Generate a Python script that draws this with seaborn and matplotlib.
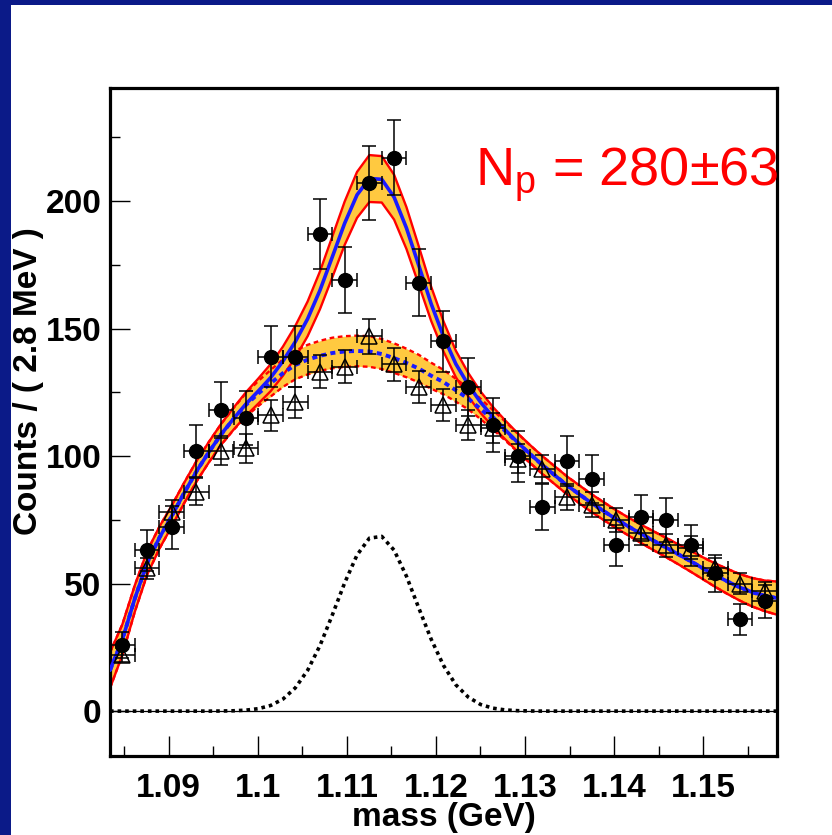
import numpy as np
import matplotlib
matplotlib.use("Agg")
import matplotlib.pyplot as plt
import seaborn as sns
from matplotlib.patches import Rectangle
from matplotlib.ticker import MultipleLocator, FuncFormatter

# binned data (27 bins of ~2.8 MeV)
mass = [1.08479, 1.08756, 1.09034, 1.09311, 1.09588, 1.09866, 1.10143, 1.10420,
        1.10698, 1.10975, 1.11253, 1.11530, 1.11807, 1.12085, 1.12362, 1.12640,
        1.12917, 1.13194, 1.13472, 1.13749, 1.14027, 1.14304, 1.14581, 1.14859,
        1.15136, 1.15414, 1.15691]
half_bin = 0.001387
counts = [26, 63, 72, 102, 118, 115, 139, 139, 187, 169, 207, 217, 168, 145,
          127, 112, 100, 80, 98, 91, 65, 76, 75, 65, 54, 36, 43]
counts_err = [5.1, 7.9, 8.5, 10.1, 10.9, 10.7, 11.8, 11.8, 13.7, 13.0, 14.4,
              14.7, 13.0, 12.0, 11.3, 10.6, 10.0, 8.9, 9.9, 9.5, 8.1, 8.7, 8.7,
              8.1, 7.3, 6.0, 6.6]
bkg_counts = [22, 56, 78, 86, 102, 103, 116, 121, 133, 135, 147, 136, 127, 120,
              112, 111, 99, 95, 84, 81, 75, 70, 65, 64, 56, 50, 47]
bkg_err = [2.6, 4.2, 4.9, 5.2, 5.7, 5.7, 6.0, 6.2, 6.5, 6.5, 6.8, 6.5, 6.3, 6.1,
           5.9, 5.9, 5.6, 5.5, 5.1, 5.0, 4.8, 4.7, 4.5, 4.5, 4.2, 4.0, 3.8]

# fit curves, read every half bin across the axis range
curve_mass = np.linspace(1.0834, 1.1583, 55)
bkg_fit = [16, 28, 44, 58, 68, 76.5, 85.5, 94, 101.5, 108.5, 114.5, 120, 124.5,
           128.5, 132.5, 135.7, 137.8, 139.3, 140.4, 141, 141.2, 141, 140, 138.4,
           136.5, 134.3, 131.5, 129, 125.8, 122.5, 118.5, 114.2, 109.8, 105.2,
           100.8, 96.5, 92.5, 88.5, 85, 81.5, 78.3, 75.2, 72.3, 69.5, 66.8, 64.2,
           61.5, 58.8, 56, 53.3, 50.8, 48.5, 46.6, 45.2, 44.3]
bkg_band = [7, 6, 5.2, 4.6, 4.3, 4.1, 4.0, 4.0, 4.0, 4.1, 4.3, 4.6, 4.9, 5.2,
            5.4, 5.6, 5.8, 5.9, 6.0, 6.0, 6.0, 6.0, 5.9, 5.8, 5.6, 5.4, 5.1,
            4.8, 4.5, 4.2, 4.0, 3.8, 3.7, 3.6, 3.5, 3.5, 3.5, 3.5, 3.5, 3.5,
            3.5, 3.5, 3.5, 3.6, 3.7, 3.8, 3.9, 4.1, 4.3, 4.6, 4.9, 5.2, 5.6,
            6.0, 6.5]
signal_fit = [0, 0, 0, 0, 0, 0, 0, 0, 0, 0.04, 0.13, 0.37, 0.95, 2.2, 4.7, 9.1,
              16.0, 25.7, 37.7, 50.3, 61.2, 67.8, 68.5, 63.1, 52.9, 40.4, 28.2,
              17.9, 10.3, 5.5, 2.6, 1.15, 0.45, 0.17, 0.05, 0, 0, 0, 0, 0, 0, 0,
              0, 0, 0, 0, 0, 0, 0, 0, 0, 0, 0, 0, 0]
total_band = [7, 6, 5.2, 4.6, 4.3, 4.1, 4.0, 4.0, 4.0, 4.1, 4.3, 4.6, 4.9, 5.3,
              5.7, 6.2, 6.8, 7.4, 8.0, 8.5, 9.0, 9.2, 9.1, 8.8, 8.2, 7.5, 6.7,
              5.9, 5.2, 4.6, 4.2, 3.9, 3.7, 3.6, 3.5, 3.5, 3.5, 3.5, 3.5, 3.5,
              3.5, 3.5, 3.5, 3.6, 3.7, 3.8, 3.9, 4.1, 4.3, 4.6, 4.9, 5.2, 5.6,
              6.0, 6.5]

bkg_fit = np.array(bkg_fit)
total_fit = bkg_fit + np.array(signal_fit)
bkg_band = np.array(bkg_band)
total_band = np.array(total_band)

sns.set_theme(style="ticks")
plt.rcParams["font.family"] = ["Liberation Sans", "DejaVu Sans"]
plt.rcParams["mathtext.default"] = "regular"
plt.rcParams["text.color"] = "black"
plt.rcParams["xtick.color"] = "black"
plt.rcParams["ytick.color"] = "black"

navy = "#0b1a88"
yellow = "#ffc940"
red = "#ff0000"
blue = "#1a1aff"

fig = plt.figure(figsize=(8.32, 8.35), dpi=100, facecolor=navy)
fig.patches.append(Rectangle((11 / 832, 0), 1, 1 - 5 / 835, transform=fig.transFigure,
                             facecolor="white", edgecolor="none", zorder=-5))
ax = fig.add_axes([110 / 832, 1 - 756 / 835, 667 / 832, 668 / 835])
ax.set_zorder(2)
ax.set_facecolor("white")

# error bands
ax.fill_between(curve_mass, bkg_fit - bkg_band, bkg_fit + bkg_band,
                color=yellow, lw=0, zorder=1)
ax.fill_between(curve_mass, total_fit - total_band, total_fit + total_band,
                color=yellow, lw=0, zorder=1)
for sign in (-1, 1):
    sns.lineplot(x=curve_mass, y=bkg_fit + sign * bkg_band, ax=ax, color=red,
                 lw=1.7, linestyle=(0, (2.0, 1.5)), estimator=None, sort=False,
                 zorder=2)
    sns.lineplot(x=curve_mass, y=total_fit + sign * total_band, ax=ax, color=red,
                 lw=1.7, estimator=None, sort=False, zorder=2)

ax.axhline(0, color="black", lw=0.9, zorder=2)
sns.lineplot(x=curve_mass, y=bkg_fit, ax=ax, color=blue, lw=2.8,
             linestyle=(0, (1.3, 1.1)), estimator=None, sort=False, zorder=3)
sns.lineplot(x=curve_mass, y=total_fit, ax=ax, color=blue, lw=2.6,
             estimator=None, sort=False, zorder=3)
sns.lineplot(x=curve_mass, y=signal_fit, ax=ax, color="black", lw=2.6,
             linestyle=(0, (1, 1.1)), estimator=None, sort=False, zorder=3)

# data points
ax.errorbar(mass, bkg_counts, xerr=half_bin, yerr=bkg_err, fmt="^",
            ms=11, mfc="none", mec="black", mew=1.1, ecolor="black",
            elinewidth=1.1, capsize=5, capthick=1.1, zorder=5)
ax.errorbar(mass, counts, xerr=half_bin, yerr=counts_err, fmt="o", ms=10,
            color="black", elinewidth=1.1, capsize=5, capthick=1.1, zorder=6)

ax.set_xlim(1.0834, 1.1583)
ax.set_ylim(-17.6, 244.3)
ax.xaxis.set_major_locator(MultipleLocator(0.01))
ax.xaxis.set_minor_locator(MultipleLocator(0.005))
ax.yaxis.set_major_locator(MultipleLocator(50))
ax.yaxis.set_minor_locator(MultipleLocator(25))
ax.xaxis.set_major_formatter(FuncFormatter(lambda v, p: "%g" % round(v, 3)))
ax.tick_params(which="both", direction="in", top=False, right=False,
               color="black", width=1.0)
ax.tick_params(which="major", length=14.5)
ax.tick_params(which="minor", length=7.5)
ax.tick_params(axis="x", pad=12, labelsize=24)
ax.tick_params(axis="y", pad=6, labelsize=24)
for lab in ax.get_xticklabels() + ax.get_yticklabels():
    lab.set_fontweight("bold")
for sp in ax.spines.values():
    sp.set_linewidth(2.3)
    sp.set_color("black")
ax.set_xlabel("")
ax.set_ylabel("")

fig.text(443.5 / 832, 1 - 826 / 835, "mass (GeV)", ha="center", va="baseline",
         fontsize=24, fontweight="bold")
fig.text(29 / 832, 1 - 381 / 835, "Counts / ( 2.8 MeV )", rotation=90,
         ha="center", va="center", fontsize=24, fontweight="bold")
fig.text(475 / 832, 1 - 186 / 835, "N$_{p}$ = 280±63", ha="left",
         va="baseline", fontsize=39, color=red)

fig.savefig("out.png", dpi=100, facecolor=navy)
